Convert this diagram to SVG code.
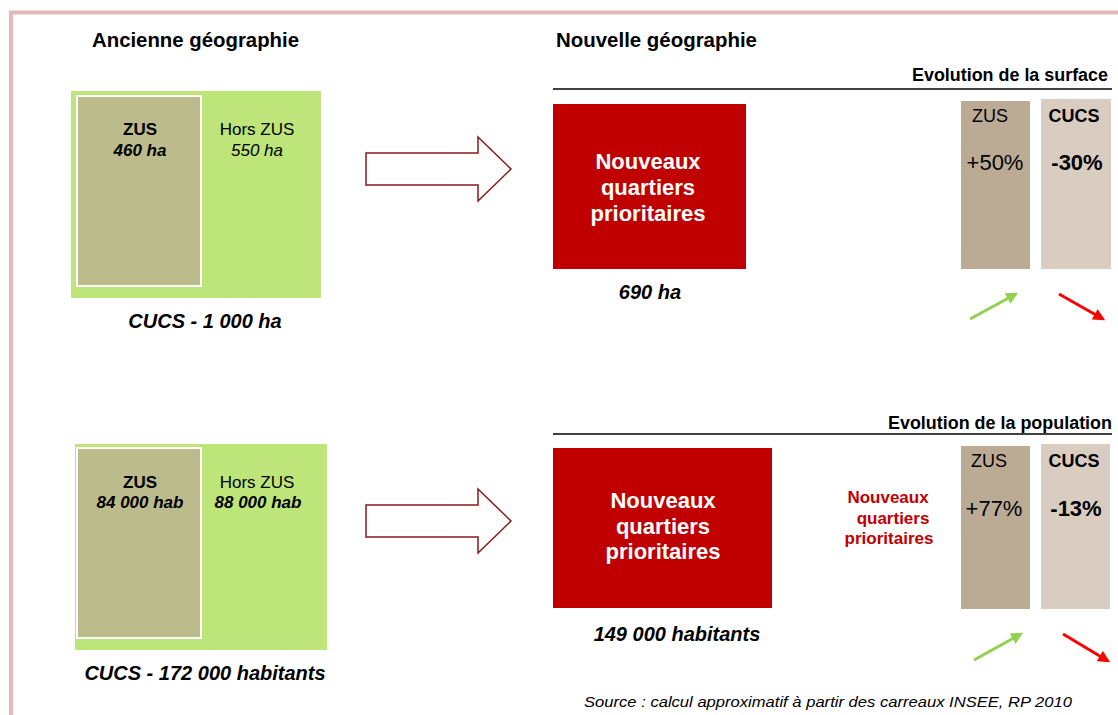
<svg xmlns="http://www.w3.org/2000/svg" width="1118" height="715" viewBox="0 0 1118 715">
<style>
text{font-family:"Liberation Sans",Arial,sans-serif;fill:#000}
.title{font-size:20px;font-weight:bold}
.c{text-anchor:middle}
.b{font-weight:bold}
.i{font-style:italic}
.s17{font-size:17px}
.s18{font-size:18px}
.s20{font-size:20px}
.s22{font-size:22px}
.w{fill:#fff}
.red{fill:#c00000}
.green{fill:#bde57a}
.zus{fill:#bcbb8c;stroke:#fff;stroke-width:2}
.nqp{fill:#c00000}
.colz{fill:#bcab94}
.colc{fill:#d9ccc0}
.bigarrow{fill:#fff;stroke:#8b1a1a;stroke-width:1.5}
</style>
<defs>
<marker id="mg" viewBox="0 0 10 10" refX="8" refY="5" markerWidth="4" markerHeight="4" orient="auto" markerUnits="strokeWidth"><path d="M0,0 L10,5 L0,10 z" fill="#92d050"/></marker>
<marker id="mr" viewBox="0 0 10 10" refX="8" refY="5" markerWidth="4" markerHeight="4" orient="auto" markerUnits="strokeWidth"><path d="M0,0 L10,5 L0,10 z" fill="#ff0000"/></marker>
</defs>
<rect width="1118" height="715" fill="#fff"/>
<path d="M11,720 L11,12.5 L1125,12.5" fill="none" stroke="#e6b8b8" stroke-width="4"/>

<text class="title" x="92" y="47" textLength="207" lengthAdjust="spacingAndGlyphs">Ancienne géographie</text>
<text class="title" x="556" y="47" textLength="201" lengthAdjust="spacingAndGlyphs">Nouvelle géographie</text>

<g id="old-surface">
<rect class="green" x="71" y="91" width="250" height="207"/>
<rect class="zus" x="77" y="96" width="124" height="190"/>
<text class="c b s17" x="140" y="135">ZUS</text>
<text class="c b i s17" x="140" y="156">460 ha</text>
<text class="c s17" x="257" y="135">Hors ZUS</text>
<text class="c i s17" x="257" y="156">550 ha</text>
<text class="c b i s20" x="205" y="328">CUCS - 1 000 ha</text>
</g>

<g id="old-population">
<rect class="green" x="75" y="444" width="252" height="206"/>
<rect class="zus" x="77" y="448" width="124" height="190"/>
<text class="c b s17" x="140" y="488">ZUS</text>
<text class="c b i s17" x="140" y="508">84 000 hab</text>
<text class="c s17" x="257" y="488">Hors ZUS</text>
<text class="c b i s17" x="258" y="508">88 000 hab</text>
<text class="c b i s20" x="205" y="680">CUCS - 172 000 habitants</text>
</g>

<g id="new-surface">
<rect class="nqp" x="553" y="104" width="193" height="165"/>
<text class="c b s22 w" x="648" y="169">Nouveaux</text>
<text class="c b s22 w" x="648" y="195">quartiers</text>
<text class="c b s22 w" x="648" y="221">prioritaires</text>
<text class="c b i s20" x="650" y="299">690 ha</text>
</g>

<g id="new-population">
<rect class="nqp" x="553" y="448" width="219" height="160"/>
<text class="c b s22 w" x="663" y="508">Nouveaux</text>
<text class="c b s22 w" x="663" y="534">quartiers</text>
<text class="c b s22 w" x="663" y="559">prioritaires</text>
<text class="c b i s20" x="677" y="641">149 000 habitants</text>
<text class="c b red s17" x="888" y="503">Nouveaux</text>
<text class="c b red s17" x="893" y="524">quartiers</text>
<text class="c b red s17" x="889" y="544">prioritaires</text>
</g>

<g id="evolution-surface">
<line x1="553" y1="89" x2="1112" y2="89" stroke="#000" stroke-width="1.5"/>
<text class="title" x="912" y="81" textLength="196" lengthAdjust="spacingAndGlyphs" style="font-size:18px">Evolution de la surface</text>
<rect class="colz" x="961" y="101" width="69" height="168"/>
<rect class="colc" x="1041" y="99" width="70" height="170"/>
<text class="c s18" x="990" y="122">ZUS</text>
<text class="c b s18" x="1074" y="122">CUCS</text>
<text class="c s22" x="995" y="170">+50%</text>
<text class="c b s22" x="1077" y="170">-30%</text>
</g>

<g id="evolution-population">
<line x1="553" y1="434" x2="1112" y2="434" stroke="#000" stroke-width="1.5"/>
<text class="title" x="888" y="429" textLength="224" lengthAdjust="spacingAndGlyphs" style="font-size:18px">Evolution de la population</text>
<rect class="colz" x="961" y="446" width="69" height="163"/>
<rect class="colc" x="1041" y="444" width="69" height="165"/>
<text class="c s18" x="989" y="467">ZUS</text>
<text class="c b s18" x="1074" y="467">CUCS</text>
<text class="c s22" x="994" y="516">+77%</text>
<text class="c b s22" x="1076" y="516">-13%</text>
</g>

<g id="connectors">
<path class="bigarrow" d="M366,153 L478,153 L478,137 L511,169 L478,201 L478,185 L366,185 Z"/>
<path class="bigarrow" d="M366,505 L478,505 L478,489 L511,521 L478,553 L478,537 L366,537 Z"/>
<line x1="970" y1="319" x2="1016" y2="294" stroke="#92d050" stroke-width="3" marker-end="url(#mg)"/>
<line x1="1059" y1="294" x2="1103" y2="319" stroke="#ff0000" stroke-width="3" marker-end="url(#mr)"/>
<line x1="974" y1="660" x2="1021" y2="634" stroke="#92d050" stroke-width="3" marker-end="url(#mg)"/>
<line x1="1063" y1="634" x2="1108" y2="661" stroke="#ff0000" stroke-width="3" marker-end="url(#mr)"/>
</g>

<text class="i" x="584" y="707" style="font-size:14px" textLength="488" lengthAdjust="spacingAndGlyphs">Source : calcul  approximatif à partir des carreaux INSEE, RP 2010</text>
</svg>
